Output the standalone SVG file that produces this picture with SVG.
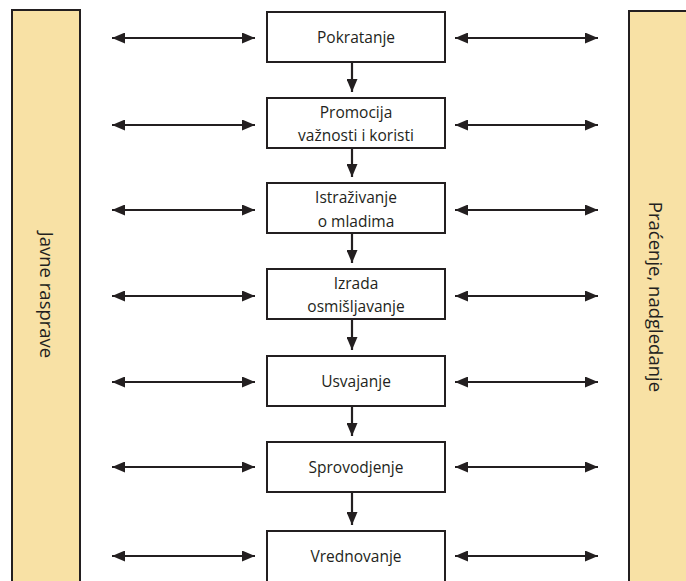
<svg xmlns="http://www.w3.org/2000/svg" width="686" height="581" viewBox="0 0 686 581">
<defs>
<style>
.bar{fill:#f8e1a5;stroke:#231f20;stroke-width:2}
.box{fill:#fff;stroke:#231f20;stroke-width:2}
.t{font-family:"Open Sans","DejaVu Sans",sans-serif;font-size:15.5px;fill:#231f20;text-anchor:middle}
.s{font-family:"Open Sans","DejaVu Sans",sans-serif;font-size:18.5px;fill:#231f20;text-anchor:middle}
.c{stroke:#231f20;stroke-width:2.2;fill:none}
</style>
<marker id="ah" viewBox="0 0 13 11" refX="13" refY="5.5" markerWidth="13" markerHeight="11" markerUnits="userSpaceOnUse" orient="auto-start-reverse">
<path d="M0,0 L13,5.5 L0,11 Z" fill="#231f20"/>
</marker>
</defs>
<rect width="686" height="581" fill="#fff"/>
<g id="javne-rasprave">
<rect class="bar" x="12" y="10" width="68" height="590"/>
<text class="s" transform="translate(40,295) rotate(90)">Javne rasprave</text>
</g>
<g id="pracenje">
<rect class="bar" x="629" y="11" width="80" height="590"/>
<text class="s" transform="translate(649,297) rotate(90)">Praćenje, nadgledanje</text>
</g>
<g id="pokratanje">
<rect class="box" x="267" y="12" width="178" height="50"/>
<text class="t" x="356" y="43">Pokratanje</text>
</g>
<g id="promocija">
<rect class="box" x="267" y="98" width="178" height="50"/>
<text class="t" x="356" y="118">Promocija</text>
<text class="t" x="356" y="141">važnosti i koristi</text>
</g>
<g id="istrazivanje">
<rect class="box" x="267" y="183" width="178" height="50"/>
<text class="t" x="356" y="203">Istraživanje</text>
<text class="t" x="356" y="227">o mladima</text>
</g>
<g id="izrada">
<rect class="box" x="267" y="269" width="178" height="50"/>
<text class="t" x="356" y="289">Izrada</text>
<text class="t" x="356" y="312">osmišljavanje</text>
</g>
<g id="usvajanje">
<rect class="box" x="267" y="356" width="178" height="50"/>
<text class="t" x="356" y="387">Usvajanje</text>
</g>
<g id="sprovodjenje">
<rect class="box" x="267" y="442" width="178" height="50"/>
<text class="t" x="356" y="473">Sprovodjenje</text>
</g>
<g id="vrednovanje">
<rect class="box" x="267" y="531" width="178" height="70"/>
<text class="t" x="356" y="562">Vrednovanje</text>
</g>
<g id="connectors">
<path class="c" marker-end="url(#ah)" d="M352,62 V92"/>
<path class="c" marker-end="url(#ah)" d="M352,148 V177"/>
<path class="c" marker-end="url(#ah)" d="M352,233 V263"/>
<path class="c" marker-end="url(#ah)" d="M352,319 V350"/>
<path class="c" marker-end="url(#ah)" d="M352,406 V436"/>
<path class="c" marker-end="url(#ah)" d="M352,492 V525"/>
<path class="c" marker-start="url(#ah)" marker-end="url(#ah)" d="M112,38 H255"/>
<path class="c" marker-start="url(#ah)" marker-end="url(#ah)" d="M112,125 H255"/>
<path class="c" marker-start="url(#ah)" marker-end="url(#ah)" d="M112,210 H255"/>
<path class="c" marker-start="url(#ah)" marker-end="url(#ah)" d="M112,296 H255"/>
<path class="c" marker-start="url(#ah)" marker-end="url(#ah)" d="M112,382 H255"/>
<path class="c" marker-start="url(#ah)" marker-end="url(#ah)" d="M112,467 H255"/>
<path class="c" marker-start="url(#ah)" marker-end="url(#ah)" d="M112,556 H255"/>
<path class="c" marker-start="url(#ah)" marker-end="url(#ah)" d="M455,38 H598"/>
<path class="c" marker-start="url(#ah)" marker-end="url(#ah)" d="M455,125 H598"/>
<path class="c" marker-start="url(#ah)" marker-end="url(#ah)" d="M455,210 H598"/>
<path class="c" marker-start="url(#ah)" marker-end="url(#ah)" d="M455,296 H598"/>
<path class="c" marker-start="url(#ah)" marker-end="url(#ah)" d="M455,382 H598"/>
<path class="c" marker-start="url(#ah)" marker-end="url(#ah)" d="M455,467 H598"/>
<path class="c" marker-start="url(#ah)" marker-end="url(#ah)" d="M455,556 H598"/>
</g>
</svg>
